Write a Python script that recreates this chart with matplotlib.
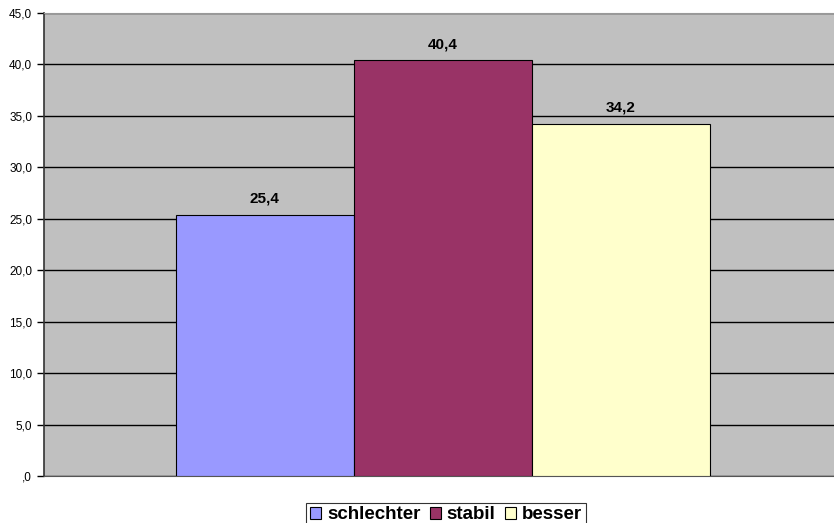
import matplotlib.pyplot as plt
from matplotlib.ticker import FuncFormatter

series = ['schlechter', 'stabil', 'besser']
values = [25.4, 40.4, 34.2]
colors = ['#9999FF', '#993366', '#FFFFCC']

plt.rcParams['font.family'] = ['Liberation Sans', 'DejaVu Sans']

fig = plt.figure(figsize=(8.34, 5.23), dpi=100)
ax = fig.add_axes([44/834, 1-476/523, 1-44/834, (476-13)/523])
ax.set_facecolor('#C0C0C0')

handles = []
for i, (s, v, c) in enumerate(zip(series, values, colors)):
    b = ax.bar(i, v, width=1.0, color=c, edgecolor='black', linewidth=0.8, label=s, zorder=3)
    handles.append(b)
    ax.text(i, v + 0.9, ('%.1f' % v).replace('.', ','), ha='center', va='bottom',
            fontsize=11, fontweight='bold', zorder=4)

ax.set_xlim(-1.242, 3.2)
ax.set_ylim(0, 45)
ax.set_yticks(range(0, 50, 5))
def fmt(y, pos):
    s = ('%.1f' % y).replace('.', ',')
    return s[1:] if s.startswith('0') else s
ax.yaxis.set_major_formatter(FuncFormatter(fmt))
ax.yaxis.grid(True, color='black', linewidth=1.0, zorder=0)
ax.set_xticks([])
ax.tick_params(axis='y', labelsize=8.5, length=5, width=1, color='black', direction='out')
ax.spines['left'].set_color('#333333')
ax.spines['left'].set_linewidth(1.2)
ax.spines['bottom'].set_color('#555555')
ax.spines['top'].set_color('#999999')
ax.spines['right'].set_visible(False)

leg = fig.legend(handles=handles, labels=series, loc='lower center', bbox_to_anchor=(446/834, -0.008),
                 ncol=3, frameon=True, fancybox=False, edgecolor='black',
                 prop={'weight': 'bold', 'size': 13.5}, handlelength=0.6, handleheight=0.6,
                 handletextpad=0.3, columnspacing=0.5, borderpad=0.2, borderaxespad=0)
leg.get_frame().set_linewidth(0.8)

fig.savefig('out.png', dpi=100)
